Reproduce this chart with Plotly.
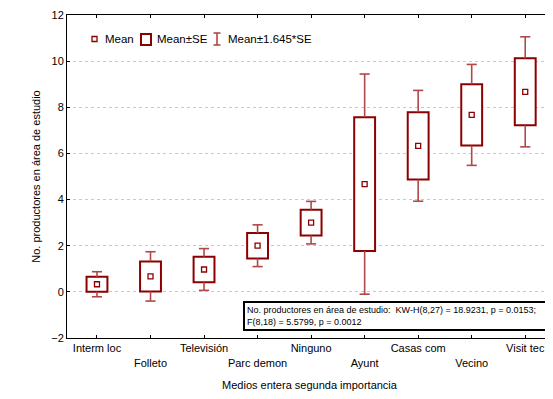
import plotly.graph_objects as go

categories = ["Interm loc", "Folleto", "Televisión", "Parc demon", "Ninguno",
              "Ayunt", "Casas com", "Vecino", "Visit tec"]
means = [0.33, 0.67, 0.97, 2.0, 3.0, 4.67, 6.33, 7.67, 8.67]
ses = [0.33, 0.65, 0.55, 0.55, 0.56, 2.9, 1.46, 1.33, 1.45]
y_ticks = [-2, 0, 2, 4, 6, 8, 10, 12]

FONT = "Liberation Sans, Arial, sans-serif"
DARK = "#8B0000"
WHISK = "#B04848"

# page body has an 8px margin: figure is drawn 8px in from the window edge
OFF = 8
W, H = 553 - OFF, 399 - OFF
PL, PR, PT, PB = 67, 552, 15, 338          # plot area in window pixels
L, T = PL - OFF, PT - OFF
PW, PH = PR - PL, PB - PT
R, B = W - L - PW, H - T - PH

def px(x):
    return (x - PL) / PW

def py(y):
    return (PB - y) / PH

xs = list(range(len(categories)))
box_w = 0.39
cap = 0.095
k = 1.645

fig = go.Figure()

# whiskers
wx, wy = [], []
for i, m, s in zip(xs, means, ses):
    hi, lo = m + k * s, m - k * s
    wx += [i, i, None, i, i, None, i - cap, i + cap, None, i - cap, i + cap, None]
    wy += [m + s, hi, None, m - s, lo, None, hi, hi, None, lo, lo, None]
fig.add_trace(go.Scatter(x=wx, y=wy, mode="lines", line=dict(color=WHISK, width=1.6),
                         hoverinfo="skip", showlegend=False))

# boxes mean +- SE
fig.add_trace(go.Bar(x=xs, y=[2 * s for s in ses], base=[m - s for m, s in zip(means, ses)],
                     width=box_w, marker=dict(color="white", line=dict(color=DARK, width=2)),
                     showlegend=False))

# means
fig.add_trace(go.Scatter(x=xs, y=means, mode="markers",
                         marker=dict(symbol="square-open", size=5, color=DARK,
                                     line=dict(width=1.3, color=DARK)),
                         showlegend=False))

ticktext = [c if i % 2 == 0 else "<br>" + c for i, c in enumerate(categories)]

fig.update_layout(
    width=W, height=H,
    margin=dict(l=L, r=R, t=T, b=B),
    paper_bgcolor="white", plot_bgcolor="white",
    font=dict(family=FONT, size=11, color="black"),
    barmode="overlay",
    xaxis=dict(range=[-0.56, 8.5], tickmode="array", tickvals=xs, ticktext=ticktext,
               tickangle=0, automargin=False,
               showgrid=False, zeroline=False, showline=True, linecolor="black", linewidth=1,
               mirror="ticks", ticks="inside", ticklen=3, tickcolor="black",
               tickfont=dict(size=11), fixedrange=True,
               title=dict(text="Medios entera segunda importancia", font=dict(size=11), standoff=13)),
    yaxis=dict(range=[-2, 12], tickmode="array", tickvals=y_ticks, automargin=False,
               showgrid=True, gridcolor="#C8C8C8", griddash="dot", gridwidth=1,
               zeroline=False, showline=True, linecolor="black", linewidth=1,
               mirror="ticks", ticks="inside", ticklen=3, tickcolor="black",
               tickfont=dict(size=11),
               title=dict(text="No. productores en área de estudio", font=dict(size=11), standoff=8)),
)

# custom legend
shapes = []
shapes.append(dict(type="rect", xref="paper", yref="paper",
                   x0=px(92), x1=px(97), y0=py(41.5), y1=py(36.5),
                   line=dict(color=DARK, width=1.3), fillcolor="white"))
shapes.append(dict(type="rect", xref="paper", yref="paper",
                   x0=px(141), x1=px(151), y0=py(45), y1=py(34),
                   line=dict(color=DARK, width=2), fillcolor="white"))
for seg in [((217, 33), (217, 45)), ((213.5, 33), (220.5, 33)), ((213.5, 45), (220.5, 45))]:
    (x0, y0), (x1, y1) = seg
    shapes.append(dict(type="line", xref="paper", yref="paper",
                       x0=px(x0), x1=px(x1), y0=py(y0), y1=py(y1),
                       line=dict(color=WHISK, width=1.6)))
fig.update_layout(shapes=shapes)

for text, x in [("Mean", 103), ("Mean±SE", 155), ("Mean±1.645*SE", 226)]:
    fig.add_annotation(text=text, xref="paper", yref="paper", x=px(x), y=py(39.5),
                       xanchor="left", yanchor="middle", showarrow=False,
                       font=dict(size=11.5, color="black"))

fig.add_annotation(
    text="No. productores en área de estudio:  KW-H(8,27) = 18.9231, p = 0.0153;<br>F(8,18) = 5.5799, p = 0.0012",
    xref="paper", yref="paper", x=px(243), y=py(301), xanchor="left", yanchor="top",
    align="left", showarrow=False, font=dict(size=9, color="black"), width=296,
    bordercolor="black", borderwidth=2, borderpad=2, bgcolor="white",
)

fig.write_html("out.html")
